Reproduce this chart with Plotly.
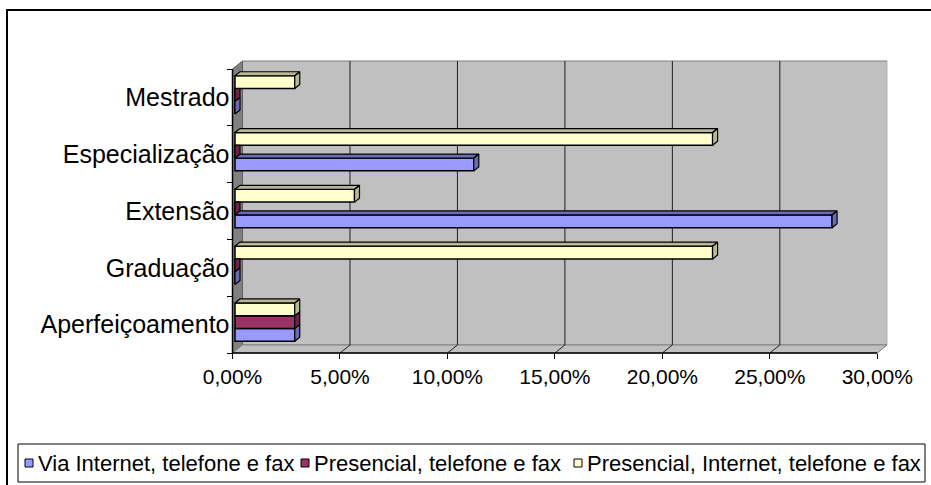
import plotly.graph_objects as go

# ---- data -------------------------------------------------------------
categories = ["Aperfeiçoamento", "Graduação", "Extensão", "Especialização", "Mestrado"]
series_names = [
    "Via Internet, telefone e fax",
    "Presencial, telefone e fax",
    "Presencial, Internet, telefone e fax",
]
via_internet = [0.0278, 0.0, 0.2778, 0.1111, 0.0]
presencial_fone = [0.0278, 0.0, 0.0, 0.0, 0.0]
presencial_internet = [0.0278, 0.2222, 0.0556, 0.2222, 0.0278]
x_ticks = [0.0, 0.05, 0.10, 0.15, 0.20, 0.25, 0.30]

series = [via_internet, presencial_fone, presencial_internet]
front_colors = ["#9999FF", "#993366", "#FFFFCC"]
shade_colors = ["#6B6BB3", "#6B2447", "#B8B893"]

# ---- geometry of the pseudo-3D frame -----------------------------------
W, H = 931, 485
FX0, FX1 = 232.5, 877.3          # front plane: x = 0 and x = 30 %
FY0, FY1 = 353.0, 69.0           # front plane: bottom / top of category band
XMAX = x_ticks[-1]
N = len(categories)
PXX = (FX1 - FX0) / XMAX         # px per x unit
PXY = (FY0 - FY1) / N            # px per category
DX = 10 / PXX                    # wall depth, in data units
DY = 8 / PXY
PADX = 1.5 / PXX
PADY = 1.5 / PXY

x_range = [-PADX, XMAX + DX]
y_range = [-0.5 - PADY, N - 0.5 + DY + PADY]
dom_x = [(FX0 + x_range[0] * PXX) / W, (FX0 + x_range[1] * PXX) / W]
dom_y = [1 - (FY0 - (y_range[0] + 0.5) * PXY) / H,
         1 - (FY0 - (y_range[1] + 0.5) * PXY) / H]

# bars sit a quarter of the way into the depth and fill half of it
BAR_BASE = 0.25 * DX
BAR_SHIFT = 2.5 / PXY
BAR_W = 0.225
BDX = 0.5 * DX
BDY = 0.5 * DY

fig = go.Figure()


def lo_edge(c, i):
    return c + BAR_SHIFT - 1.5 * BAR_W + i * BAR_W


# front faces
for i, (name, vals) in enumerate(zip(series_names, series)):
    fig.add_trace(go.Bar(
        y=list(range(N)), x=vals, base=BAR_BASE, orientation="h",
        width=BAR_W, offset=BAR_SHIFT - 1.5 * BAR_W + i * BAR_W,
        marker=dict(color=front_colors[i], line=dict(color="black", width=1.5)),
        name=name, hoverinfo="x+name", showlegend=False,
    ))

# top and end faces of each bar (only the parts not hidden by the bar above)
for i, vals in enumerate(series):
    xs, ys = [], []
    for c in range(N):
        v = vals[c]
        lo = lo_edge(c, i)
        hi = lo + BAR_W
        above = series[i + 1][c] if i < 2 else None
        start = 0.0 if above is None else above
        x0 = BAR_BASE
        if v > start:
            xs += [x0 + start, x0 + v, x0 + v + BDX, x0 + start + BDX, x0 + start, None]
            ys += [hi, hi, hi + BDY, hi + BDY, hi, None]
        if above is not None and above >= v + BDX:
            xs += [x0 + v, x0 + v, x0 + v + BDX, x0 + v + BDX, x0 + v, None]
            ys += [lo, hi, hi, lo + BDY, lo, None]
        else:
            xs += [x0 + v, x0 + v, x0 + v + BDX, x0 + v + BDX, x0 + v, None]
            ys += [lo, hi, hi + BDY, lo + BDY, lo, None]
    fig.add_trace(go.Scatter(
        x=xs, y=ys, mode="lines", fill="toself", fillcolor=shade_colors[i],
        line=dict(color="black", width=1.2), showlegend=False, hoverinfo="skip",
    ))

# walls, floor and gridlines
top = N - 0.5
shapes = [
    dict(type="rect", xref="x", yref="y", x0=DX, x1=XMAX + DX, y0=-0.5 + DY, y1=top + DY,
         fillcolor="#C0C0C0", line=dict(color="#808080", width=1), layer="below"),
    dict(type="path", xref="x", yref="y",
         path=f"M0,-0.5 L{DX},{-0.5 + DY} L{DX},{top + DY} L0,{top} Z",
         fillcolor="#808080", line=dict(color="#606060", width=1), layer="below"),
    dict(type="path", xref="x", yref="y",
         path=f"M0,-0.5 L{XMAX},-0.5 L{XMAX + DX},{-0.5 + DY} L{DX},{-0.5 + DY} Z",
         fillcolor="#C0C0C0", line=dict(color="#808080", width=1), layer="below"),
]
for v in x_ticks[1:-1]:
    shapes.append(dict(
        type="path", xref="x", yref="y",
        path=f"M{v},-0.5 L{v + DX},{-0.5 + DY} L{v + DX},{top + DY}",
        line=dict(color="#202020", width=1), layer="below"))
# front axis lines
shapes.append(dict(type="line", xref="x", yref="y", x0=0, x1=XMAX, y0=-0.5, y1=-0.5,
                   line=dict(color="black", width=1.5), layer="above"))
shapes.append(dict(type="line", xref="x", yref="y", x0=0, x1=0, y0=-0.5, y1=top,
                   line=dict(color="black", width=1.5), layer="above"))
# chart frame
shapes.append(dict(type="rect", xref="paper", yref="paper", x0=7 / W, x1=1.02,
                   y0=-0.02, y1=1 - 10 / H, line=dict(color="black", width=2),
                   fillcolor="rgba(0,0,0,0)", layer="above"))

font_family = "Liberation Sans, Arial, sans-serif"

# ---- legend box with swatches and series names ------------------------
LEG_X0, LEG_X1, LEG_Y0, LEG_Y1 = 18, 925, 444, 482
LEG_CY = 463
LEG_SWATCH_CX = [29, 305, 578]
SW = 4
annotations = []
shapes.append(dict(type="rect", xref="paper", yref="paper",
                   x0=LEG_X0 / W, x1=LEG_X1 / W, y0=1 - LEG_Y1 / H, y1=1 - LEG_Y0 / H,
                   line=dict(color="black", width=1), fillcolor="white", layer="above"))
for i, name in enumerate(series_names):
    cx = LEG_SWATCH_CX[i]
    shapes.append(dict(type="rect", xref="paper", yref="paper",
                       x0=(cx - SW) / W, x1=(cx + SW) / W,
                       y0=1 - (LEG_CY + SW) / H, y1=1 - (LEG_CY - SW) / H,
                       fillcolor=front_colors[i], line=dict(color="black", width=1),
                       layer="above"))
    annotations.append(dict(
        text=name, xref="paper", yref="paper", x=(cx + 7) / W, y=1 - LEG_CY / H,
        xanchor="left", yanchor="middle", showarrow=False,
        font=dict(size=22, family=font_family, color="black"),
    ))

fig.update_layout(
    width=W, height=H, autosize=False,
    margin=dict(l=0, r=0, t=0, b=0, autoexpand=False),
    paper_bgcolor="white", plot_bgcolor="rgba(0,0,0,0)",
    separators=",.",
    barmode="overlay",
    font=dict(family=font_family, color="black", size=18),
    shapes=shapes,
    annotations=annotations,
    showlegend=False,
    xaxis=dict(
        domain=dom_x, range=x_range, anchor="free", position=1 - FY0 / H,
        tickvals=x_ticks, tickformat=".2%", ticks="outside", ticklen=5,
        tickcolor="black", tickwidth=1, showgrid=False, zeroline=False,
        showline=False, automargin=False, tickfont=dict(size=21, family=font_family),
    ),
    yaxis=dict(
        domain=dom_y, range=y_range, anchor="free", position=FX0 / W,
        tickvals=list(range(N)), ticktext=categories, ticks="",
        minor=dict(tickvals=[k - 0.5 for k in range(N + 1)], ticks="outside",
                   ticklen=6, tickcolor="black", tickwidth=1, showgrid=False),
        showgrid=False, zeroline=False, showline=False, automargin=False,
        ticklabelstandoff=3,
        tickfont=dict(size=25, family=font_family),
    ),
)

fig.write_html("out.html")
